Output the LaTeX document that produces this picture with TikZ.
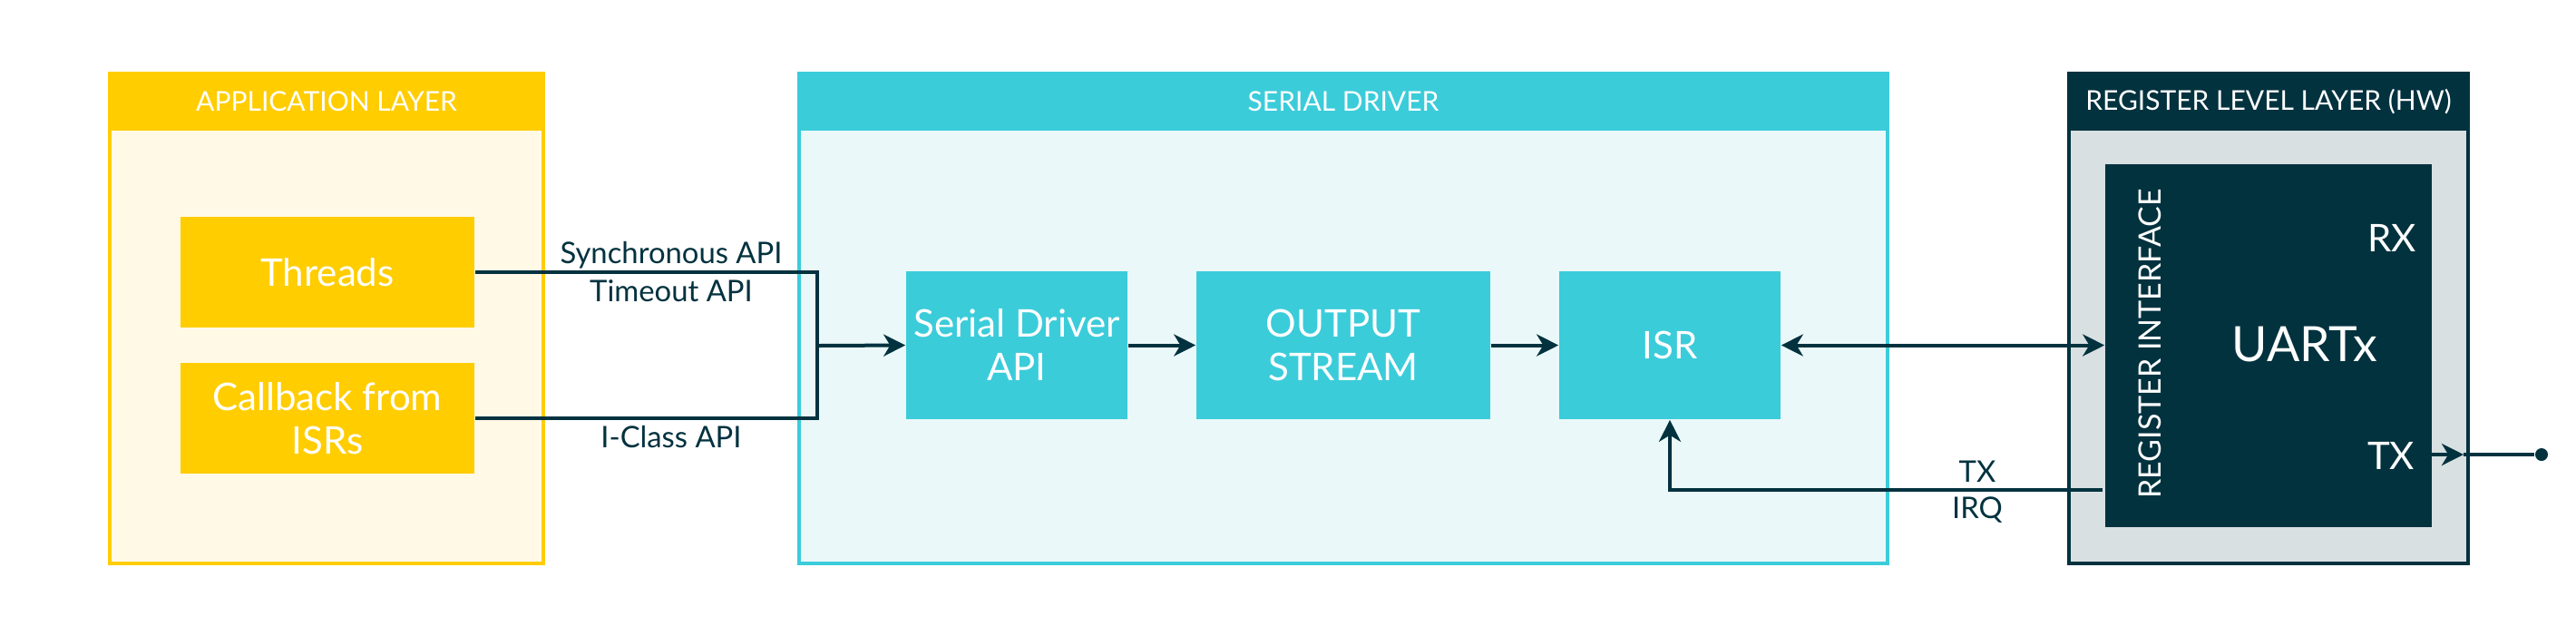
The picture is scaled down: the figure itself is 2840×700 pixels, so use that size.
\documentclass[tikz,border=0pt]{standalone}
\usepackage{fontspec}
\setmainfont{Lato}
\usetikzlibrary{arrows.meta}
\definecolor{appyellow}{HTML}{FFCD00}
\definecolor{appfill}{HTML}{FFF9E6}
\definecolor{drvcyan}{HTML}{3BCCDA}
\definecolor{drvfill}{HTML}{EAF8F9}
\definecolor{hwteal}{HTML}{03323F}
\definecolor{hwgray}{HTML}{D8E0E2}
\tikzset{
  layer/.style={draw=#1, line width=1pt, minimum height=135pt, inner sep=0pt},
  layerhead/.style={fill=#1, minimum height=16pt, anchor=north, inner sep=0pt,
    text=white, font=\fontsize{7.5}{9}\selectfont},
  blk/.style={fill=#1, text=white, inner sep=0pt, align=center,
    font=\fontsize{10.5}{12}\selectfont},
  lbl/.style={text=hwteal, inner sep=0pt, font=\fontsize{8.2}{9}\selectfont},
  wire/.style={draw=hwteal, line width=1pt},
  >={Stealth[length=6pt,width=6pt,inset=1.8pt]}
}
\begin{document}
\begin{tikzpicture}[x=0.25pt,y=-0.25pt]
  \useasboundingbox (0,0) rectangle (2840,700);
  % layers
  \node[layer=appyellow, fill=appfill, minimum width=119.5pt] (app) at (360,351) {};
  \node[layerhead=appyellow, minimum width=120.5pt] (apphead) at (app.north) {APPLICATION LAYER};
  \node[layer=drvcyan, fill=drvfill, minimum width=300pt] (drv) at (1481,351) {};
  \node[layerhead=drvcyan, minimum width=301pt] (drvhead) at (drv.north) {SERIAL DRIVER};
  \node[layer=hwteal, fill=hwgray, minimum width=110pt] (reg) at (2501,351) {};
  \node[layerhead=hwteal, minimum width=111pt] (reghead) at (reg.north) {REGISTER LEVEL LAYER (HW)};
  % blocks
  \node[blk=appyellow, minimum width=81pt, minimum height=30.5pt] (threads) at (361,300) {Threads};
  \node[blk=appyellow, minimum width=81pt, minimum height=30.5pt] (callback) at (361,461) {Callback from\\ISRs};
  \node[blk=drvcyan, minimum width=61pt, minimum height=40.75pt] (sdapi) at (1121,380.5) {Serial Driver\\API};
  \node[blk=drvcyan, minimum width=81pt, minimum height=40.75pt] (output) at (1481,380.5) {OUTPUT\\STREAM};
  \node[blk=drvcyan, minimum width=61pt, minimum height=40.75pt] (isr) at (1841,380.5) {ISR};
  \node[blk=hwteal, minimum width=90pt, minimum height=100pt] (uart) at (2501,381) {};
  \node[text=white, inner sep=0pt, font=\fontsize{13.4}{16}\selectfont] (uartname) at (2541,380) {UARTx};
  \node[text=white, inner sep=0pt, anchor=east, font=\fontsize{10.5}{12}\selectfont] (rx) at (2665,262) {RX};
  \node[text=white, inner sep=0pt, anchor=east, font=\fontsize{10.5}{12}\selectfont] (tx) at (2663,502) {TX};
  \node[text=white, inner sep=0pt, rotate=90, font=\fontsize{8.5}{10}\selectfont] (regif) at (2370,379) {REGISTER INTERFACE};
  % connectors
  \coordinate (jn) at (901,381);
  \draw[wire] (threads.east) -| (jn);
  \draw[wire] (callback.east) -| (jn);
  \draw[wire,->] (jn) -- (sdapi.west);
  \node[lbl] (syncapi) at (740,281) {Synchronous API};
  \node[lbl] (tmoapi) at (740,321) {Timeout API};
  \node[lbl] (iclassapi) at (740,482) {I-Class API};
  \draw[wire,->] (sdapi) -- (output);
  \draw[wire,->] (output) -- (isr);
  \draw[wire,<->] (isr.east) -- (uart.west |- isr.east);
  \coordinate (irq) at (2318,540);
  \draw[wire,->] (irq) -| (isr.south);
  \node[lbl] (txlbl) at (2180,520) {TX};
  \node[lbl] (irqlbl) at (2180,562) {IRQ};
  \coordinate (txpin) at (2681,501);
  \coordinate (txtip) at (2716,501);
  \node[circle, fill=hwteal, minimum size=3.5pt, inner sep=0pt] (txdot) at (2802,501) {};
  \draw[wire,->] (txpin) -- (txtip);
  \draw[wire] (txtip) -- (txdot);
\end{tikzpicture}
\end{document}
